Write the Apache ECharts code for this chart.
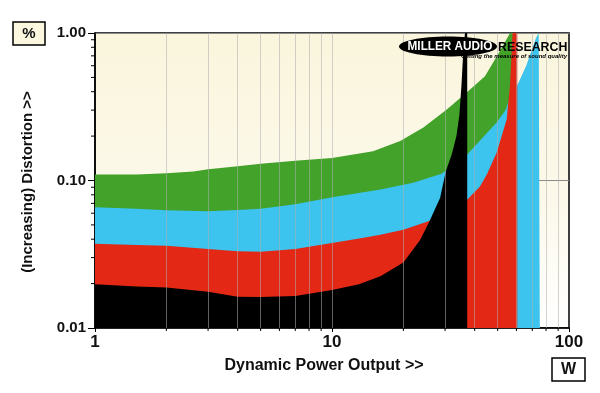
<!DOCTYPE html>
<html><head><meta charset="utf-8">
<script src="https://cdn.jsdelivr.net/npm/echarts@6/dist/echarts.min.js"></script>
<style>html,body{margin:0;padding:0;background:#fff}#c{width:600px;height:393px}</style>
</head><body><div id="c"></div>
<script>
// ---- data (x = W, y = %) ----
const xTickLabels = ['1', '10', '100'];
const yTickLabels = ['0.01', '0.10', '1.00'];

const green = [[1,0.110],[1.5,0.110],[2,0.1118],[2.6,0.115],[3,0.119],[4,0.125],[5,0.130],[7,0.136],[10,0.142],[14.9,0.158],[19.4,0.185],[24.3,0.229],[30.5,0.303],[37,0.395],[44.2,0.51],[51,0.75],[56.4,1.0],[60,1.0],[60,0.01]];
const cyan = [[1,0.0658],[1.5,0.0643],[2,0.0629],[3,0.0619],[4,0.063],[5,0.0643],[7,0.069],[10,0.077],[14,0.084],[16,0.087],[22,0.0965],[29,0.111],[33,0.13],[37.2,0.15],[42.5,0.19],[49.5,0.247],[54,0.3],[57.3,0.39],[60.5,0.44],[66,0.6],[72.5,0.92],[74.5,1.0],[75.3,1.0],[75.3,0.01]];
const red = [[1,0.0373],[1.5,0.0366],[2,0.0361],[3,0.0343],[4,0.0331],[5,0.0329],[7,0.0343],[10,0.0377],[14,0.0412],[16,0.0429],[20,0.0464],[25.5,0.053],[30,0.06],[34,0.067],[37.2,0.074],[42.1,0.091],[45,0.11],[49.5,0.154],[52,0.2],[54.6,0.26],[56.4,0.45],[57.8,1.0],[60.5,1.0],[60.5,0.01]];
const black = [[1,0.0198],[1.5,0.0191],[2,0.0188],[3,0.0176],[4,0.0163],[5,0.0162],[7,0.0165],[10,0.0181],[13,0.0198],[16,0.0224],[20,0.0278],[23.5,0.0393],[25.7,0.0524],[28.6,0.0763],[30.2,0.115],[32,0.15],[33.5,0.2],[34.5,0.28],[35.2,0.45],[35.8,0.75],[36.4,1.0],[37.2,1.0],[37.2,0.01]];

const gridX = [2,3,4,5,6,7,8,9,10,20,30,40,50,60,70,80,90];
const minorX = [2,3,4,5,6,7,8,9,20,30,40,50,60,70,80,90];
const minorY = [0.02,0.03,0.04,0.05,0.06,0.07,0.08,0.09,0.2,0.3,0.4,0.5,0.6,0.7,0.8,0.9];

const FONT = 'Liberation Sans, Arial, sans-serif';

function areaSeries(name, data, color, extra) {
  return Object.assign({
    name, type: 'line', data,
    showSymbol: false, symbol: 'none',
    lineStyle: { width: 0 },
    areaStyle: { color, opacity: 1, origin: 'start' },
    itemStyle: { color },
    silent: true
  }, extra || {});
}

const chart = echarts.init(document.getElementById('c'), null, { renderer: 'canvas' });
chart.setOption({
  animation: false,
  backgroundColor: '#fff',
  grid: {
    left: 95, right: 31, top: 33, bottom: 65,
    show: true, borderColor: '#000', borderWidth: 1.5,
    backgroundColor: { type: 'linear', x: 0, y: 0, x2: 0, y2: 1,
      colorStops: [{ offset: 0, color: '#faf5dc' }, { offset: 0.55, color: '#fcf9ea' }, { offset: 1, color: '#ffffff' }] }
  },
  xAxis: {
    type: 'log', logBase: 10, min: 1, max: 100,
    axisLine: { show: true, lineStyle: { color: '#000', width: 1.5 } },
    axisTick: { show: true, length: 4, lineStyle: { color: '#000' } },
    axisLabel: { margin: 6, color: '#111', fontFamily: FONT, fontWeight: 'bold', fontSize: 17,
      formatter: v => xTickLabels[Math.round(Math.log10(v))] },
    splitLine: { show: false }
  },
  yAxis: {
    type: 'log', logBase: 10, min: 0.01, max: 1,
    axisLine: { show: true, lineStyle: { color: '#000', width: 1.5 } },
    axisTick: { show: true, length: 7, lineStyle: { color: '#000' } },
    axisLabel: { margin: 9, color: '#111', fontFamily: FONT, fontWeight: 'bold', fontSize: 15,
      formatter: v => yTickLabels[Math.round(Math.log10(v)) + 2] },
    splitLine: { show: true, lineStyle: { color: '#8a8a8a', width: 1 } }
  },
  series: [
    areaSeries('green', green, '#42a22a'),
    areaSeries('cyan', cyan, '#3cc3ee'),
    areaSeries('red', red, '#e42816'),
    areaSeries('black', black, '#000000', {
      markLine: {
        silent: true, symbol: ['none', 'none'], label: { show: false },
        lineStyle: { color: 'rgba(175,175,175,0.55)', width: 1, type: 'solid' },
        emphasis: { disabled: true },
        data: gridX.map(v => ({ xAxis: v }))
      }
    }),
    {
      type: 'custom', coordinateSystem: 'cartesian2d', clip: false, silent: true, z: 6,
      data: minorY.map(v => [1, v]),
      renderItem: (params, api) => {
        const p = api.coord([api.value(0), api.value(1)]);
        return { type: 'line', shape: { x1: p[0] - 4, y1: p[1], x2: p[0], y2: p[1] }, style: { stroke: '#000', lineWidth: 1 } };
      }
    },
    {
      type: 'custom', coordinateSystem: 'cartesian2d', clip: false, silent: true, z: 6,
      data: minorX.map(v => [v, 0.01]),
      renderItem: (params, api) => {
        const p = api.coord([api.value(0), api.value(1)]);
        return { type: 'line', shape: { x1: p[0], y1: p[1], x2: p[0], y2: p[1] + 3 }, style: { stroke: '#000', lineWidth: 1 } };
      }
    }
  ],
  graphic: [
    { type: 'rect', z: 100, shape: { x: 13, y: 22, width: 32, height: 23 }, style: { fill: '#fbf8df', stroke: '#000', lineWidth: 1.5 } },
    { type: 'text', z: 101, x: 29, y: 34, style: { text: '%', fill: '#111', font: 'bold 15px ' + FONT, align: 'center', verticalAlign: 'middle' } },
    { type: 'rect', z: 100, shape: { x: 552, y: 358, width: 33, height: 23 }, style: { fill: '#ffffff', stroke: '#000', lineWidth: 1.5 } },
    { type: 'text', z: 101, x: 568.5, y: 370, style: { text: 'W', fill: '#111', font: 'bold 16px ' + FONT, align: 'center', verticalAlign: 'middle' } },
    { type: 'text', z: 101, x: 324, y: 366, style: { text: 'Dynamic Power Output >>', fill: '#111', font: 'bold 16px ' + FONT, align: 'center', verticalAlign: 'middle' } },
    { type: 'text', z: 101, x: 28, y: 182, rotation: Math.PI / 2, style: { text: '(Increasing) Distortion >>', fill: '#111', font: 'bold 15px ' + FONT, align: 'center', verticalAlign: 'middle' } },
    // logo
    { type: 'ellipse', z: 100, shape: { cx: 448, cy: 46.5, rx: 49, ry: 10 }, style: { fill: '#000' } },
    { type: 'text', z: 101, x: 450, y: 47, scaleX: 0.94, style: { text: 'MILLER AUDIO', fill: '#fff', font: 'bold 12.5px ' + FONT, align: 'center', verticalAlign: 'middle' } },
    { type: 'text', z: 101, x: 498, y: 47, scaleX: 0.95, style: { text: 'RESEARCH', fill: '#000', font: 'bold 13px ' + FONT, align: 'left', verticalAlign: 'middle' } },
    { type: 'text', z: 101, x: 567, y: 56, style: { text: 'Getting the measure of sound quality', fill: '#000', font: 'italic bold 6px ' + FONT, align: 'right', verticalAlign: 'middle' } }
  ]
});
</script>
</body></html>
